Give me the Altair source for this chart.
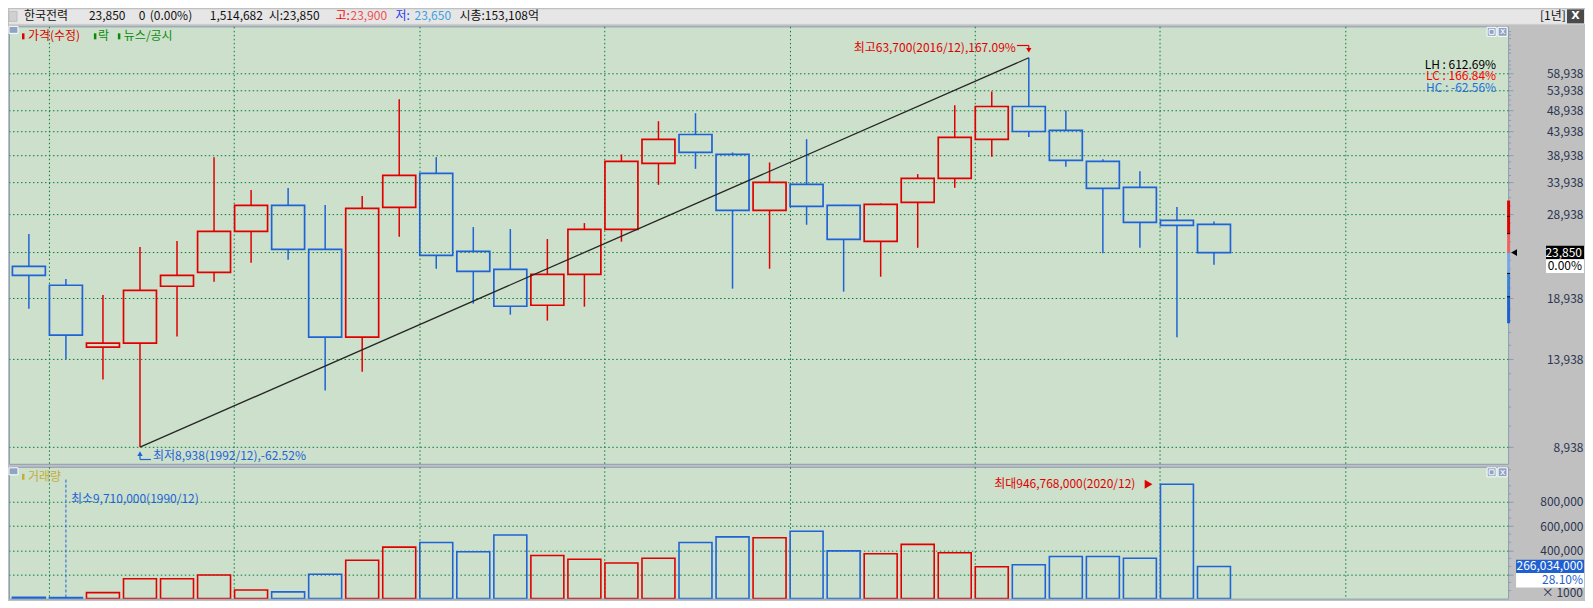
import math
import altair as alt
import pandas as pd

# ---------------- data (yearly candles, KEPCO) ----------------
years = [1989, 1990, 1991, 1992, 1993, 1994, 1995, 1996, 1997, 1998, 1999,
         2000, 2001, 2002, 2003, 2004, 2005, 2006, 2007, 2008, 2009, 2010,
         2011, 2012, 2013, 2014, 2015, 2016, 2017, 2018, 2019, 2020, 2021]
opens = [22250, 20220, 14800, 15100, 20120, 21590, 26540, 30250, 24240, 15560, 29950,
         35550, 24000, 21910, 18280, 21370, 26810, 37380, 43260, 39120, 29500, 33630,
         30250, 25240, 30720, 34660, 42190, 49820, 44150, 37760, 33120, 28050, 27490]
highs = [26180, 20870, 19260, 24520, 25270, 38590, 32680, 33010, 30300, 31710, 51680,
         38590, 27120, 26850, 25530, 27670, 39120, 46260, 48160, 39510, 37570, 42250,
         30350, 30560, 35420, 50140, 53730, 63700, 48820, 38200, 35960, 30000, 27910]
lows = [17970, 13930, 12570, 8938, 15610, 20590, 22660, 23000, 11890, 13080, 25830,
        21980, 18430, 17430, 16920, 18150, 25190, 33560, 36380, 19880, 21980, 27440,
        19580, 21110, 24430, 33060, 38650, 42740, 36750, 23750, 24430, 15560, 22430]
closes = [21260, 15720, 15100, 19710, 21260, 26540, 30250, 24240, 15560, 29800, 35190,
          23520, 21690, 18190, 21370, 26810, 37760, 42190, 39510, 29500, 33970, 30100,
          25490, 30410, 34660, 42620, 49820, 43920, 37950, 32960, 27770, 27350, 23850]
volumes = [11500, 9710, 50000, 164000, 164000, 195000, 71000, 56000, 202000, 318000, 426000,
           465000, 388000, 527000, 357000, 326000, 295000, 334000, 465000, 511000, 504000, 558000,
           395000, 372000, 449000, 380000, 264000, 280000, 349000, 349000, 334000, 946768, 266034]

price_ticks = [8938, 13938, 18938, 23938, 28938, 33938, 38938, 43938, 48938, 53938, 58938]
vol_ticks = [200000, 400000, 600000, 800000]
grid_years = [1989.54, 1994.54, 1999.54, 2004.54, 2009.54, 2014.54, 2019.54, 2024.54]

header_texts = ["한국전력", "23,850", "0", "(0.00%)", "1,514,682", "시:23,850",
                "고:", "23,900", "저:", "23,650", "시총:153,108억"]
legend_price = ["가격(수정)", "락", "뉴스/공시"]
stat_texts = ["LH : 612.69%", "LC : 166.84%", "HC : -62.56%"]
max_label = "최고63,700(2016/12),167.09%"
min_label = "최저8,938(1992/12),-62.52%"
vmax_label = "최대946,768,000(2020/12)"
vmin_label = "최소9,710,000(1990/12)"
cur_pct = "0.00%"
vol_pct = "28.10%"
limit_factors = [0.7, 0.8, 0.9, 1.0, 1.1, 1.2, 1.3]

# ---------------- styling / layout ----------------
FONT = "Noto Sans CJK KR"
RED = "#E00000"
BLUE = "#1F63D6"
GRID = "#0C7A36"
PLOT_BG = "#CCE0CB"
EDGE = "#8C9DB5"
AXIS_TXT = "#2B3450"
OLIVE = "#C3AE38"
GREEN = "#0A8A0A"

W, PH, VH = 1501, 438, 132
HW, HH = 1577, 14
X_DOM = [1988.598, 2028.807]
P_DOM = [8217, 74640]
V_DOM = [0, 1091000]
PX_PER_LN = PH / math.log(P_DOM[1] / P_DOM[0])
YR_PER_PX = (X_DOM[1] - X_DOM[0]) / W
VOL_PER_PX = (V_DOM[1] - V_DOM[0]) / VH


def p_shift(p, px):
    return p * math.exp(-px / PX_PER_LN)


def v_shift(v, px):
    return v - px * VOL_PER_PX


df = pd.DataFrame({"year": years, "open": opens, "high": highs, "low": lows,
                   "close": closes, "vol": volumes})
df["dir"] = ["up" if c >= o else "down" for o, c in zip(opens, closes)]
df["top"] = df[["open", "close"]].max(axis=1)
df["bot"] = df[["open", "close"]].min(axis=1)

xs = alt.Scale(domain=X_DOM, nice=False, zero=False)
ys = alt.Scale(type="log", domain=P_DOM, nice=False)
vs = alt.Scale(domain=V_DOM, nice=False, zero=True)
cs = alt.Scale(domain=["up", "down"], range=[RED, BLUE])

x_axis = alt.Axis(values=grid_years, grid=True, gridColor=GRID, gridDash=[1.5, 2.5],
                  gridWidth=1, labels=False, ticks=False, domain=False, title=None,
                  orient="bottom")
p_axis = alt.Axis(orient="right", values=price_ticks, grid=True, gridColor=GRID,
                  gridDash=[1.5, 2.5], gridWidth=1, domain=False, tickSize=5,
                  tickColor=EDGE, labelAlign="right", labelBaseline="middle",
                  labelPadding=70, labelFont=FONT, labelFontSize=12, labelColor=AXIS_TXT,
                  labelOverlap=False, labelFlush=False, title=None,
                  labelExpr="datum.value == 23938 ? '' : format(datum.value, ',')")
v_axis = alt.Axis(orient="right", values=vol_ticks, grid=True, gridColor=GRID,
                  gridDash=[1.5, 2.5], gridWidth=1, domain=False, tickSize=5,
                  tickColor=EDGE, labelAlign="right", labelBaseline="middle",
                  labelPadding=70, labelFont=FONT, labelFontSize=12, labelColor=AXIS_TXT,
                  labelOverlap=False, labelFlush=False, title=None,
                  labelExpr="datum.value == 200000 ? '' : format(datum.value, ',')")


def XF(f):
    return alt.X(f"{f}:Q", scale=xs, axis=x_axis, title=None)


def PY(f):
    return alt.Y(f"{f}:Q", scale=ys, axis=p_axis, title=None)


def VY(f):
    return alt.Y(f"{f}:Q", scale=vs, axis=v_axis, title=None)


C = alt.Color("dir:N", scale=cs, legend=None)


def chart(**cols):
    return alt.Chart(pd.DataFrame({k: (v if isinstance(v, list) else [v]) for k, v in cols.items()}))


def label(txt, x, y, **kw):
    props = dict(font=FONT, fontSize=12, baseline="middle", align="left", color="#111111")
    props.update(kw)
    return chart(t=txt).mark_text(**props).encode(x=alt.value(x), y=alt.value(y), text="t:N")


def rect(x1, x2, y1, y2, **kw):
    return chart(k=0).mark_rect(**kw).encode(x=alt.value(x1), x2=alt.value(x2),
                                             y=alt.value(y1), y2=alt.value(y2))


def buttons(y0):
    return [
        rect(W - 21, W - 12, y0, y0 + 9, fill="#8FA3C4", stroke="white", strokeWidth=1),
        rect(W - 19, W - 14, y0 + 2, y0 + 7, fill="#8FA3C4", stroke="white", strokeWidth=1),
        rect(W - 10, W - 1, y0, y0 + 9, fill="#8FA3C4", stroke="white", strokeWidth=1),
        label("x", W - 5.5, y0 + 4, color="white", align="center", fontSize=9, font="DejaVu Sans"),
    ]


# ---------------- header ----------------
header_x = [15, 80, 130, 141, 201, 260, 327, 342, 387, 406, 451]
header_colors = ["#111111", "#111111", "#111111", "#111111", "#111111", "#111111",
                 "#FF0000", "#F05050", "#2838F0", "#3CA0E0", "#111111"]
hdr = [rect(0, 8, 2, 12, fill="#D0D0D0", stroke="#BDBDBD", strokeWidth=1)]
for t, x, c in zip(header_texts, header_x, header_colors):
    hdr.append(label(t, x, 6.5, color=c))
hdr += [label("[1년]", 1533, 6.5),
        rect(1560, 1577, 0, 14, fill="#4A4A4A"),
        label("X", 1568.5, 7, color="white", align="center", fontWeight="bold",
              font="DejaVu Sans", fontSize=11)]
header = alt.layer(*hdr).properties(
    width=HW, height=HH, view=alt.ViewBackground(fill="#E6E6E6", stroke="#E6E6E6"))

# ---------------- price panel ----------------
base = alt.Chart(df)
X = XF("year")
wick_hi = base.mark_rule(strokeWidth=1.5).encode(x=X, y=PY("high"), y2="top", color=C)
wick_lo = base.mark_rule(strokeWidth=1.5).encode(x=X, y=PY("bot"), y2="low", color=C)
body = base.mark_bar(filled=False, strokeWidth=1.7, size=33, clip=True).encode(
    x=X, y=PY("top"), y2="bot", color=C)

i_lo = lows.index(min(lows))
i_hi = highs.index(max(highs))
lo_year, lo_val = years[i_lo], lows[i_lo]
hi_year, hi_val = years[i_hi], highs[i_hi]

trend = chart(year=[lo_year, hi_year], price=[lo_val, hi_val]).mark_line(
    color="#262626", strokeWidth=1.3).encode(x=X, y=PY("price"))

max_text = chart(year=hi_year, price=hi_val, t=max_label).mark_text(
    font=FONT, fontSize=12, align="right", baseline="middle", dx=-13, dy=-10, color=RED
).encode(x=X, y=PY("price"), text="t:N")
max_arr_h = chart(x1=hi_year - 12 * YR_PER_PX, x2=hi_year, y=p_shift(hi_val, -12.3)).mark_rule(
    color=RED, strokeWidth=1.2).encode(x=XF("x1"), x2="x2:Q", y=PY("y"))
max_arr_v = chart(x=hi_year, y1=p_shift(hi_val, -12.3), y2=p_shift(hi_val, -8)).mark_rule(
    color=RED, strokeWidth=1.2).encode(x=XF("x"), y=PY("y1"), y2="y2")
max_tri = chart(x=hi_year, y=p_shift(hi_val, -7.5)).mark_point(
    shape="triangle-down", filled=True, size=28, color=RED, opacity=1).encode(x=XF("x"), y=PY("y"))

min_text = chart(year=lo_year, price=lo_val, t=min_label).mark_text(
    font=FONT, fontSize=12, align="left", baseline="middle", dx=13, dy=9, color=BLUE
).encode(x=X, y=PY("price"), text="t:N")
min_arr_v = chart(x=lo_year, y1=p_shift(lo_val, 7), y2=p_shift(lo_val, 12.4)).mark_rule(
    color=BLUE, strokeWidth=1.2).encode(x=XF("x"), y=PY("y1"), y2="y2")
min_arr_h = chart(x1=lo_year, x2=lo_year + 11 * YR_PER_PX, y=p_shift(lo_val, 12.4)).mark_rule(
    color=BLUE, strokeWidth=1.2).encode(x=XF("x1"), x2="x2:Q", y=PY("y"))
min_tri = chart(x=lo_year, y=p_shift(lo_val, 6.5)).mark_point(
    shape="triangle-up", filled=True, size=28, color=BLUE, opacity=1).encode(x=XF("x"), y=PY("y"))

# minor ticks on the price axis
minor_p = []
v = 8938
while v < P_DOM[1]:
    step = 1000 if v < 23938 else 1250
    for k in range(1, 5000 // step):
        mv = v + k * step
        if mv < P_DOM[1]:
            minor_p.append(mv)
    v += 5000
minor_p = [m for m in minor_p if m not in price_ticks]
p_minor = chart(y=minor_p).mark_rule(color=EDGE, strokeWidth=1).encode(
    x=alt.value(W), x2=alt.value(W + 3), y=PY("y"))

last = closes[-1]
seg_colors = ["#1F5FCF", "#3D7FD9", "#7AA5E5", "#F06060", "#E00000", "#E00000"]
limit_layers = []
for i, col in enumerate(seg_colors):
    limit_layers.append(
        chart(y1=last * limit_factors[i], y2=last * limit_factors[i + 1]).mark_rule(
            color=col, strokeWidth=3).encode(x=alt.value(W + 0.5), y=PY("y1"), y2="y2"))
limit_ticks = chart(y=[last * f for f in limit_factors[1:3] + limit_factors[4:6]]).mark_rule(
    color="black", strokeWidth=1).encode(x=alt.value(W - 1), x2=alt.value(W + 2), y=PY("y"))
cur_tri = chart(close=last).mark_point(shape="triangle-left", filled=True, size=45,
                                       color="black", opacity=1).encode(
    x=alt.value(W + 6), y=PY("close"))
cur_box = chart(y1=p_shift(last, -6.8), y2=p_shift(last, 6.6)).mark_rect(color="black").encode(
    x=alt.value(1539), x2=alt.value(1577), y=PY("y1"), y2="y2")
cur_box2 = chart(y1=p_shift(last, 6.6), y2=p_shift(last, 20.4)).mark_rect(color="white").encode(
    x=alt.value(1539), x2=alt.value(1577), y=PY("y1"), y2="y2")
cur_txt = chart(close=last, t=f"{last:,}").mark_text(
    font=FONT, fontSize=12, align="right", baseline="middle", color="white").encode(
    x=alt.value(1575), y=PY("close"), text="t:N")
cur_pct_txt = chart(close=last, t=cur_pct).mark_text(
    font=FONT, fontSize=12, align="right", baseline="middle", dy=13.7, color="black").encode(
    x=alt.value(1575), y=PY("close"), text="t:N")

stat_colors = ["#000000", "#FF0000", "#1E6FD9"]
stat_layers = [label(t, 1489, y, align="right", color=c)
               for t, y, c in zip(stat_texts, [38.5, 50, 61.5], stat_colors)]

legend_layers = [
    rect(0, 9, 0, 7, fill="#8FA3C4", stroke="white", strokeWidth=1),
    rect(13, 15.5, 7, 13, fill=RED),
    label(legend_price[0], 19, 9.5, color=RED),
    rect(85, 87.5, 7, 13, fill=GREEN),
    label(legend_price[1], 89, 9.5, color=GREEN),
    rect(109, 111.5, 7, 13, fill=GREEN),
    label(legend_price[2], 115, 9.5, color=GREEN),
]

price = alt.layer(
    wick_hi, wick_lo, body, trend,
    max_text, max_arr_h, max_arr_v, max_tri,
    min_text, min_arr_v, min_arr_h, min_tri,
    p_minor, *limit_layers, limit_ticks, cur_tri, cur_box, cur_box2, cur_txt, cur_pct_txt,
    *stat_layers, *legend_layers, *buttons(1)
).properties(width=W, height=PH,
             view=alt.ViewBackground(fill=PLOT_BG, stroke=EDGE, strokeWidth=1))

# ---------------- volume panel ----------------
vbars = base.mark_bar(filled=False, strokeWidth=1.6, size=33, clip=True).encode(
    x=X, y=VY("vol"), color=C)

i_vmax = volumes.index(max(volumes))
i_vmin = volumes.index(min(volumes))
vmax_year, vmax_val = years[i_vmax], volumes[i_vmax]
vmin_year, vmin_val = years[i_vmin], volumes[i_vmin]
MIN_LINE_TOP = 1000000
MIN_LABEL_VOL = 824000

vmin_line = chart(x=vmin_year, y1=vmin_val, y2=MIN_LINE_TOP).mark_rule(
    color=BLUE, strokeWidth=1, strokeDash=[3, 2]).encode(x=XF("x"), y=VY("y1"), y2="y2")
vmin_text = chart(x=vmin_year, y=MIN_LABEL_VOL, t=vmin_label).mark_text(
    font=FONT, fontSize=12, align="left", baseline="middle", dx=5, color=BLUE).encode(
    x=XF("x"), y=VY("y"), text="t:N")
vmax_text = chart(x=vmax_year, y=vmax_val, t=vmax_label).mark_text(
    font=FONT, fontSize=12, align="right", baseline="middle", dx=-41.6, color=RED).encode(
    x=XF("x"), y=VY("y"), text="t:N")
vmax_tri = chart(x=vmax_year - 28.6 * YR_PER_PX, y=vmax_val).mark_point(
    shape="triangle-right", filled=True, size=80, color=RED, opacity=1).encode(
    x=XF("x"), y=VY("y"))

minor_v = [k * 200000 / 3 for k in range(1, 17) if k % 3 != 0]
v_minor = chart(y=minor_v).mark_rule(color=EDGE, strokeWidth=1).encode(
    x=alt.value(W), x2=alt.value(W + 3), y=VY("y"))

cur_vol = volumes[-1]
vbox = chart(y1=v_shift(cur_vol, -6.8), y2=v_shift(cur_vol, 6.6)).mark_rect(color="#1F5FCF").encode(
    x=alt.value(1509), x2=alt.value(1577), y=VY("y1"), y2="y2")
vbox2 = chart(y1=v_shift(cur_vol, 6.6), y2=v_shift(cur_vol, 21)).mark_rect(color="white").encode(
    x=alt.value(1509), x2=alt.value(1577), y=VY("y1"), y2="y2")
vcur_txt = chart(y=cur_vol, t=f"{cur_vol * 1000:,}").mark_text(
    font=FONT, fontSize=12, align="right", baseline="middle", color="white").encode(
    x=alt.value(1576), y=VY("y"), text="t:N")
vpct_txt = chart(y=cur_vol, t=vol_pct).mark_text(
    font=FONT, fontSize=12, align="right", baseline="middle", dy=14, color="#1F5FCF").encode(
    x=alt.value(1576), y=VY("y"), text="t:N")
vunit_txt = chart(y=cur_vol, t="× 1000").mark_text(
    font=FONT, fontSize=12, align="right", baseline="middle", dy=27, color=AXIS_TXT).encode(
    x=alt.value(1576), y=VY("y"), text="t:N")

vlegend = [
    rect(0, 9, 1, 8, fill="#8FA3C4", stroke="white", strokeWidth=1),
    rect(13, 15.5, 7, 13, fill=OLIVE),
    label("거래량", 19, 10, color=OLIVE),
]

volume = alt.layer(
    vbars, vmin_line, vmin_text, vmax_text, vmax_tri, v_minor,
    vbox, vbox2, vcur_txt, vpct_txt, vunit_txt, *vlegend, *buttons(1)
).properties(width=W, height=VH,
             view=alt.ViewBackground(fill=PLOT_BG, stroke=EDGE, strokeWidth=1))

final = alt.vconcat(header, alt.vconcat(price, volume, spacing=1), spacing=1).properties(
    padding=0, background="#C0C0C0").configure(font=FONT)

final.save("out.html", embed_options={"renderer": "svg", "actions": False})
